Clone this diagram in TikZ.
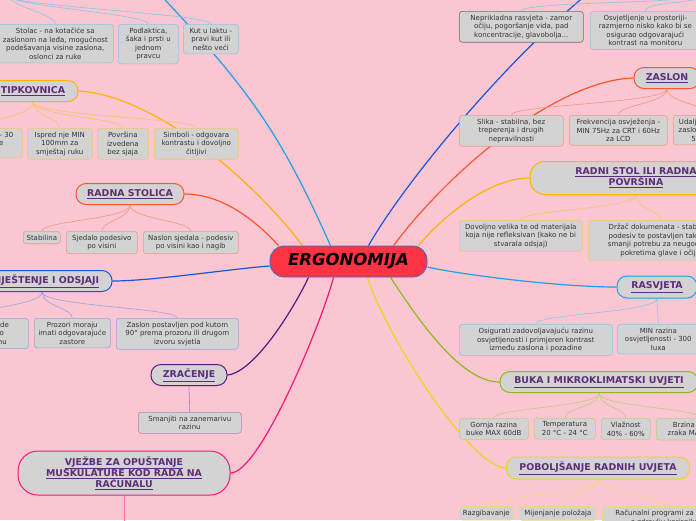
\documentclass[tikz,border=0pt]{standalone}
\usepackage{fontspec}
\setmainfont{DejaVu Sans}
\usepackage{tikz}
\definecolor{bgpink}{RGB}{249,198,210}
\definecolor{boxgray}{RGB}{211,211,211}
\definecolor{topicink}{RGB}{94,45,121}
\definecolor{leafink}{RGB}{51,51,51}
\definecolor{hubred}{RGB}{255,51,68}
\definecolor{hubline}{RGB}{60,110,200}
\definecolor{sky}{RGB}{30,160,230}
\definecolor{royal}{RGB}{25,85,220}
\definecolor{amber}{RGB}{255,180,0}
\definecolor{tomato}{RGB}{255,85,40}
\definecolor{plum}{RGB}{90,25,120}
\definecolor{hotpink}{RGB}{255,20,120}
\definecolor{lime}{RGB}{140,185,30}
\definecolor{lemon}{RGB}{235,215,25}
\definecolor{skyleaf}{RGB}{140,195,235}
\definecolor{royalleaf}{RGB}{150,165,225}
\definecolor{greyleaf}{RGB}{110,110,110}
\definecolor{amberleaf}{RGB}{250,195,100}
\definecolor{tomatoleaf}{RGB}{245,150,130}
\definecolor{plumleaf}{RGB}{175,130,190}
\definecolor{pinkleaf}{RGB}{240,120,170}
\definecolor{limeleaf}{RGB}{190,205,120}
\definecolor{lemonleaf}{RGB}{235,220,120}
\pgfdeclarelayer{backdrop}
\pgfdeclarelayer{links}
\pgfsetlayers{backdrop,links,main}

\begin{document}
\begin{tikzpicture}[x=1pt,y=-1pt,
  hub/.style={draw=hubline,fill=hubred,line width=0.8pt,rounded corners=14pt,minimum width=157pt,minimum height=31pt,font=\fontsize{16.5}{19}\selectfont\bfseries\itshape},
  topic/.style={draw=#1,fill=boxgray,line width=1pt,rounded corners=10pt,minimum height=21pt,text=topicink,align=center,inner sep=2pt,font=\fontsize{9.4}{11}\selectfont\bfseries},
  leaf/.style={draw=#1,fill=boxgray,line width=0.6pt,rounded corners=3pt,anchor=north west,text=leafink,align=center,inner xsep=2pt,inner ysep=3.5pt,font=\fontsize{7}{8.6}\selectfont},
  branch/.style={draw=#1,line width=1.2pt},
  twig/.style={draw=#1,line width=0.6pt}]
  \begin{pgfonlayer}{backdrop}
    \fill[bgpink] (0,0) rectangle (696,520);
  \end{pgfonlayer}
  \useasboundingbox (0,0) rectangle (696,520);
  \clip (0,0) rectangle (696,520);

  \node[hub] (ergo) at (348.5,261.5) {ERGONOMIJA};

  \node[topic=amber,minimum width=90pt] (tipk) at (33,91) {\underline{TIPKOVNICA}};
  \node[topic=tomato,minimum width=108pt] (rstolica) at (130,194) {\underline{RADNA STOLICA}};
  \node[topic=royal,minimum width=140pt] (blj) at (42,281) {\underline{BLIJEŠTENJE I ODSJAJI}};
  \node[topic=plum,minimum width=76pt] (zrac) at (189,375) {\underline{ZRAČENJE}};
  \node[topic=hotpink,minimum width=212pt,minimum height=44pt,rounded corners=20pt] (vjez) at (124,473)
    {\underline{VJEŽBE ZA OPUŠTANJE}\\\underline{MUSKULATURE KOD RADA NA}\\\underline{RAČUNALU}};
  \node[topic=tomato,minimum width=66pt] (zasl) at (667,78) {\underline{ZASLON}};
  \node[topic=amber,minimum width=212pt,minimum height=33pt,rounded corners=15pt] (rstol) at (636,178)
    {\underline{RADNI STOL ILI RADNA}\\\underline{POVRŠINA}};
  \node[topic=sky,minimum width=80pt,minimum height=22pt] (rasv) at (657,287) {\underline{RASVJETA}};
  \node[topic=lime,minimum width=198pt] (buka) at (599,382) {\underline{BUKA I MIKROKLIMATSKI UVJETI}};
  \node[topic=lemon,minimum width=183pt,minimum height=22pt] (pobo) at (598,468) {\underline{POBOLJŠANJE RADNIH UVJETA}};

  \node[leaf=skyleaf,minimum width=116pt] (l1) at (-3,24) {Stolac - na kotačiće sa\\zaslonom na leđa, mogućnost\\podešavanja visine zaslona,\\oslonci za ruke};
  \node[leaf=skyleaf,minimum width=60pt] (l2) at (118,24) {Podlaktica,\\šaka i prsti u\\jednom\\pravcu};
  \node[leaf=skyleaf,minimum width=55pt] (l3) at (183,24) {Kut u laktu -\\pravi kut ili\\nešto veći};

  \node[leaf=amberleaf,minimum width=72pt] (t1) at (-50,128) {Nagib od 5 - 30\\stupnjeve\\ };
  \node[leaf=amberleaf,minimum width=65pt] (t2) at (27,128) {Ispred nje MIN\\100mm za\\smještaj ruku};
  \node[leaf=amberleaf,minimum width=51pt] (t3) at (97,128) {Površina\\izvedena\\bez sjaja};
  \node[leaf=amberleaf,minimum width=84pt] (t4) at (154,128) {Simboli - odgovara\\kontrastu i dovoljno\\čitljivi};

  \node[leaf=tomatoleaf,minimum width=37pt] (s1) at (23,231) {Stabilina};
  \node[leaf=tomatoleaf,minimum width=71pt] (s2) at (66,231) {Sjedalo podesivo\\po visini};
  \node[leaf=tomatoleaf,minimum width=95pt] (s3) at (143,231) {Naslon sjedala - podesiv\\po visini kao i nagib};

  \node[leaf=royalleaf,minimum width=120pt] (b1) at (-92,318) {Izvor svjetla neka bude\\postavljen paralelno\\sa zaslonom, u stranu};
  \node[leaf=royalleaf,minimum width=76pt] (b2) at (34,318) {Prozori moraju\\imati odgovarajuće\\zastore};
  \node[leaf=royalleaf,minimum width=122pt] (b3) at (116,318) {Zaslon postavljen pod kutom\\90° prema prozoru ili drugom\\izvoru svjetla};

  \node[leaf=plumleaf,minimum width=103pt] (z0) at (138,412) {Smanjiti na zanemarivu\\razinu};
  \coordinate (vjk) at (124,540);

  \coordinate (tl) at (150,-16);
  \coordinate (tlk) at (9,-4);
  \coordinate (tr) at (600,-16);
  \coordinate (trk) at (705,-6);

  \node[leaf=greyleaf,minimum width=124pt] (r1) at (459,11) {Neprikladna rasvjeta - zamor\\očiju, pogoršanje vida, pad\\koncentracije, glavobolja...};
  \node[leaf=skyleaf,minimum width=110pt] (r2) at (590,11) {Osvjetljenje u prostoriji-\\razmjerno nisko kako bi se\\osigurao odgovarajući\\kontrast na monitoru};

  \node[leaf=tomatoleaf,minimum width=104pt] (z1) at (459,115) {Slika - stabilna, bez\\treperenja i drugih\\nepravilnosti};
  \node[leaf=tomatoleaf,minimum width=98pt] (z2) at (569,115) {Frekvencija osvježenja -\\MIN 75Hz za CRT i 60Hz\\za LCD};
  \node[leaf=tomatoleaf,minimum width=74pt] (z3) at (673,115) {Udaljenost oka od\\zaslona iznosi oko\\50 - 70 cm};

  \node[leaf=amberleaf,minimum width=123pt] (d1) at (459,220) {Dovoljno velika te od materijala\\koja nije refleksivan (kako ne bi\\stvarala odsjaj)};
  \node[leaf=amberleaf,minimum width=144pt] (d2) at (588,220) {Držač dokumenata - stabilan,\\podesiv te postavljen tako da\\smanji potrebu za neugodnim\\pokretima glave i očiju};

  \node[leaf=skyleaf,minimum width=153pt] (v1) at (459,324) {Osigurati zadovoljavajuću razinu\\osvjetljenosti i primjeren kontrast\\između zaslona i pozadine};
  \node[leaf=skyleaf,minimum width=82pt] (v2) at (617,324) {MIN razina\\osvjetljenosti - 300\\luxa};

  \node[leaf=limeleaf,minimum width=69pt] (k1) at (459,418) {Gornja razina\\buke MAX 60dB};
  \node[leaf=limeleaf,minimum width=61pt] (k2) at (534,418) {Temperatura\\20 °C - 24 °C};
  \node[leaf=limeleaf,minimum width=49pt] (k3) at (601,418) {Vlažnost\\40\% - 60\%};
  \node[leaf=limeleaf,minimum width=88pt] (k4) at (656,418) {Brzina strujanja\\zraka MAX 0,2 m/s};

  \node[leaf=lemonleaf,minimum width=54pt] (p1) at (459,506) {Razgibavanje};
  \node[leaf=lemonleaf,minimum width=77pt] (p2) at (519,506) {Mijenjanje položaja};
  \node[leaf=lemonleaf,minimum width=125pt] (p3) at (602,506) {Računalni programi za brigu\\o zdravlju korisnika};

  \begin{pgfonlayer}{links}
    \draw[branch=sky] (tl) .. controls +(100,105) and +(-50,-112) .. ([xshift=-18pt]ergo.north);
    \draw[branch=amber] (tipk.east) .. controls +(80,5) and +(-45,-60) .. ([xshift=-46pt]ergo.north);
    \draw[branch=tomato] (rstolica.east) .. controls +(40,0) and +(-20,-22) .. ([xshift=-70pt]ergo.north);
    \draw[branch=royal] (blj.east) .. controls +(40,0) and +(-40,3) .. ([yshift=-4.5pt]ergo.west);
    \draw[branch=plum] (zrac.east) .. controls +(28,-3) and +(-13,28) .. ([xshift=-40pt]ergo.south);
    \draw[branch=hotpink] (vjez.east) .. controls +(30,0) and +(-10,40) .. ([xshift=-15pt]ergo.south);
    \draw[branch=royal] (tr) .. controls +(-80,61) and +(40,-70) .. ([xshift=20pt]ergo.north);
    \draw[branch=tomato] (zasl.west) .. controls +(-74,2) and +(60,-80) .. ([xshift=45pt]ergo.north);
    \draw[branch=amber] (rstol.west) .. controls +(-40,0) and +(25,-30) .. ([xshift=70pt]ergo.north);
    \draw[branch=sky] (rasv.west) .. controls +(-60,0) and +(30,7) .. ([yshift=-5.5pt]ergo.east);
    \draw[branch=lime] (buka.west) .. controls +(-40,0) and +(25,38) .. ([xshift=42pt]ergo.south);
    \draw[branch=lemon] (pobo.west) .. controls +(-35,0) and +(18,58) .. ([xshift=19pt]ergo.south);

    \draw[twig=skyleaf] (tlk) .. controls +(0,10) and +(0,-10) .. (l1.north)
                        (tlk) .. controls +(0,10) and +(0,-10) .. (l2.north)
                        (tlk) .. controls +(0,10) and +(0,-10) .. (l3.north);
    \draw[twig=amberleaf] (tipk.south) .. controls +(0,14) and +(0,-10) .. (t1.north)
                          (tipk.south) .. controls +(0,14) and +(0,-10) .. (t2.north)
                          (tipk.south) .. controls +(0,14) and +(0,-10) .. (t3.north)
                          (tipk.south) .. controls +(0,14) and +(0,-10) .. (t4.north);
    \draw[twig=tomatoleaf] (rstolica.south) .. controls +(0,14) and +(0,-10) .. (s1.north)
                           (rstolica.south) .. controls +(0,14) and +(0,-10) .. (s2.north)
                           (rstolica.south) .. controls +(0,14) and +(0,-10) .. (s3.north);
    \draw[twig=royalleaf] (blj.south) .. controls +(0,14) and +(0,-10) .. (b1.north)
                          (blj.south) .. controls +(0,14) and +(0,-10) .. (b2.north)
                          (blj.south) .. controls +(0,14) and +(0,-10) .. (b3.north);
    \draw[twig=plumleaf] (zrac.south) -- (z0.north);
    \draw[twig=pinkleaf] (vjez.south) -- (vjk);
    \draw[twig=skyleaf] (trk) .. controls +(0,10) and +(0,-10) .. (r1.north)
                        (trk) .. controls +(0,10) and +(0,-10) .. (r2.north);
    \draw[twig=tomatoleaf] (zasl.south) .. controls +(0,14) and +(0,-10) .. (z1.north)
                           (zasl.south) .. controls +(0,14) and +(0,-10) .. (z2.north)
                           (zasl.south) .. controls +(0,14) and +(0,-10) .. (z3.north);
    \draw[twig=amberleaf] (rstol.south) .. controls +(0,14) and +(0,-10) .. (d1.north)
                          (rstol.south) .. controls +(0,14) and +(0,-10) .. (d2.north);
    \draw[twig=skyleaf] (rasv.south) .. controls +(0,14) and +(0,-10) .. (v1.north)
                        (rasv.south) .. controls +(0,14) and +(0,-10) .. (v2.north);
    \draw[twig=limeleaf] (buka.south) .. controls +(0,14) and +(0,-10) .. (k1.north)
                         (buka.south) .. controls +(0,14) and +(0,-10) .. (k2.north)
                         (buka.south) .. controls +(0,14) and +(0,-10) .. (k3.north)
                         (buka.south) .. controls +(0,14) and +(0,-10) .. (k4.north);
    \draw[twig=lemonleaf] (pobo.south) .. controls +(0,14) and +(0,-10) .. (p1.north)
                          (pobo.south) .. controls +(0,14) and +(0,-10) .. (p2.north)
                          (pobo.south) .. controls +(0,14) and +(0,-10) .. (p3.north);
  \end{pgfonlayer}
\end{tikzpicture}
\end{document}
